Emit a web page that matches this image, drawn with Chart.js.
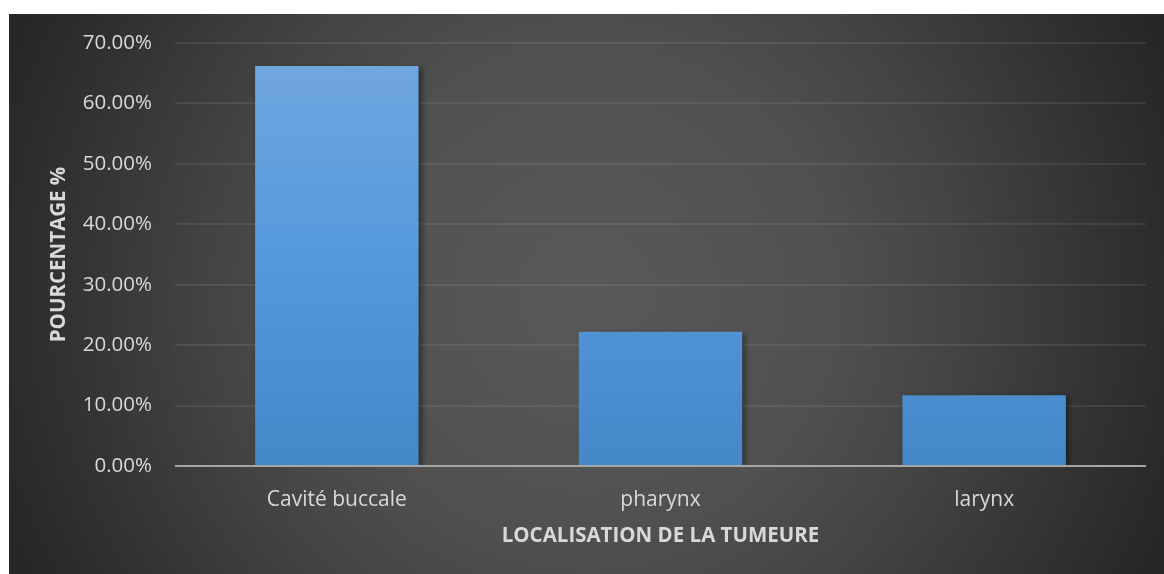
<!DOCTYPE html>
<html>
<head>
<meta charset="utf-8">
<script src="https://cdn.jsdelivr.net/npm/chart.js@4.4.0/dist/chart.umd.min.js"></script>
<style>
  html, body { margin: 0; background: #fff; }
  #wrap { position: absolute; left: 9px; top: 14px; width: 1155px; height: 560px; }
</style>
</head>
<body>
<div id="wrap"><canvas id="chart" width="1155" height="560"></canvas></div>
<script>
const categories = ['Cavité buccale', 'pharynx', 'larynx'];
const percentages = [66.2, 22.2, 11.7];
const yTicks = [0, 10, 20, 30, 40, 50, 60, 70];

const textColor = '#d9d9d9';
const fontFamily = '"Open Sans", "Noto Sans", sans-serif';

// dark radial backdrop like the Excel style
const backdrop = {
  id: 'backdrop',
  beforeDraw(chart) {
    const { ctx, width, height } = chart;
    const rx = 620, ry = height * 1.1;
    ctx.save();
    ctx.translate(width / 2, height / 2);
    ctx.scale(1, ry / rx);
    const g = ctx.createRadialGradient(0, 0, 0, 0, 0, rx);
    g.addColorStop(0, '#595959');
    g.addColorStop(0.4, '#505050');
    g.addColorStop(0.6, '#444444');
    g.addColorStop(0.93, '#2c2c2c');
    g.addColorStop(1, '#272727');
    ctx.fillStyle = g;
    ctx.fillRect(-width, -width, width * 2, width * 2);
    ctx.restore();
  }
};

// soft shadow behind bars
const barShadow = {
  id: 'barShadow',
  beforeDatasetDraw(chart) {
    const ctx = chart.ctx;
    ctx.save();
    ctx.shadowColor = 'rgba(0,0,0,0.45)';
    ctx.shadowBlur = 6;
    ctx.shadowOffsetX = 3;
    ctx.shadowOffsetY = 2;
  },
  afterDatasetDraw(chart) {
    chart.ctx.restore();
  }
};

// the category axis line sits on top of the bars
const zeroLine = {
  id: 'zeroLine',
  afterDatasetsDraw(chart) {
    const { ctx, chartArea, scales } = chart;
    const y = scales.y.getPixelForValue(yTicks[0]);
    ctx.save();
    ctx.strokeStyle = '#a6a6a6';
    ctx.lineWidth = 2;
    ctx.beginPath();
    ctx.moveTo(chartArea.left, y);
    ctx.lineTo(chartArea.right, y);
    ctx.stroke();
    ctx.restore();
  }
};

const ctx = document.getElementById('chart').getContext('2d');

new Chart(ctx, {
  type: 'bar',
  data: {
    labels: categories,
    datasets: [{
      data: percentages,
      backgroundColor: (c) => {
        const area = c.chart.chartArea;
        if (!area) return '#5b9bd5';
        const g = c.chart.ctx.createLinearGradient(0, area.top, 0, area.bottom);
        g.addColorStop(0, '#72a8de');
        g.addColorStop(0.5, '#5599dc');
        g.addColorStop(1, '#4488c8');
        return g;
      },
      borderWidth: 0,
      categoryPercentage: 1,
      barPercentage: 0.505
    }]
  },
  options: {
    responsive: false,
    animation: false,
    layout: { padding: { left: 0, right: 18, top: 29, bottom: 0 } },
    plugins: {
      legend: { display: false },
      tooltip: { enabled: false }
    },
    scales: {
      x: {
        grid: { display: false, drawTicks: false },
        border: { display: false },
        ticks: {
          color: textColor,
          padding: 21,
          font: { family: fontFamily, size: 21 }
        },
        title: {
          display: true,
          text: 'LOCALISATION DE LA TUMEURE',
          color: textColor,
          font: { family: fontFamily, size: 20.5, weight: 'bold' },
          padding: { top: 0, bottom: 26 }
        },
        afterFit(scale) { scale.height = 108; }
      },
      y: {
        min: yTicks[0],
        max: yTicks[yTicks.length - 1],
        grid: {
          drawTicks: false,
          color: 'rgba(255,255,255,0.08)',
          lineWidth: 2
        },
        border: { display: false },
        ticks: {
          stepSize: yTicks[1] - yTicks[0],
          color: textColor,
          padding: 23,
          font: { family: fontFamily, size: 20.5 },
          callback: (v) => v.toFixed(2) + '%'
        },
        title: {
          display: true,
          text: 'POURCENTAGE %',
          color: textColor,
          font: { family: fontFamily, size: 20.5, weight: 'bold' },
          padding: { top: 38, bottom: 0 }
        },
        afterFit(scale) {
          scale.width = 166;
          scale.paddingTop = 0;
          scale.paddingBottom = 0;
        }
      }
    }
  },
  plugins: [backdrop, barShadow, zeroLine]
});
</script>
</body>
</html>
